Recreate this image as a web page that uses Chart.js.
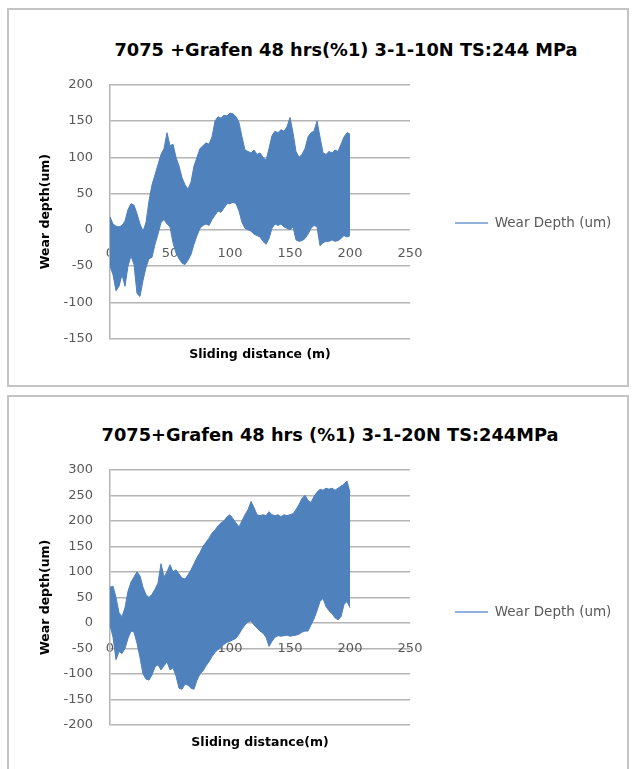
<!DOCTYPE html>
<html>
<head>
<meta charset="utf-8">
<script src="https://cdn.jsdelivr.net/npm/chart.js@4.4.1/dist/chart.umd.min.js"></script>
<style>
  html, body { margin: 0; padding: 0; background: #fff; overflow: hidden; width: 632px; height: 769px; }
  .frame { position: absolute; left: 7px; width: 622px; border: 2px solid #c4c4c4; box-sizing: border-box; }
  .title { position: absolute; width: 600px; text-align: center; font: bold 17.8px "DejaVu Sans", sans-serif;
           line-height: 1; color: #000; white-space: nowrap; }
  canvas { position: absolute; left: 9px; }
</style>
</head>
<body>
<div class="frame" style="top:8px;height:379px"></div>
<div class="frame" style="top:395px;height:400px"></div>
<div class="title" style="left:46px;top:41.4px">7075 +Grafen 48 hrs(%1) 3-1-10N TS:244 MPa</div>
<div class="title" style="left:30px;top:426.4px">7075+Grafen 48 hrs (%1) 3-1-20N TS:244MPa</div>
<canvas id="wear10" width="623" height="320" style="top:60px"></canvas>
<canvas id="wear20" width="623" height="321" style="top:445px"></canvas>
<script>
// Sliding distance (m) at which the wear-depth band is sampled
const distance = [
  0, 2.5, 5, 7.5, 10, 12.5, 15, 17.5, 20, 22.5, 25, 27.5, 30, 32.5, 35, 37.5, 40, 42.5, 45, 47.5,
  50, 52.5, 55, 57.5, 60, 62.5, 65, 67.5, 70, 72.5, 75, 77.5, 80, 82.5, 85, 87.5, 90, 92.5, 95, 97.5,
  100, 102.5, 105, 107.5, 110, 112.5, 115, 117.5, 120, 122.5, 125, 127.5, 130, 132.5, 135, 137.5, 140, 142.5, 145, 147.5,
  150, 152.5, 155, 157.5, 160, 162.5, 165, 167.5, 170, 172.5, 175, 177.5, 180, 182.5, 185, 187.5, 190, 192.5, 195, 197.5, 200
];

// 10 N test: upper and lower envelope of the wear-depth signal (um)
const upper10N = [
  18, 8, 5, 4, 6, 12, 28, 36, 34, 22, 8, -2, 10, 40, 62, 76, 90, 104, 112, 134,
  116, 118, 100, 88, 72, 62, 56, 66, 88, 100, 112, 116, 120, 118, 128, 150, 156, 154, 158, 157,
  161, 160, 156, 148, 128, 110, 108, 106, 110, 104, 106, 100, 96, 112, 130, 136, 134, 138, 136, 142,
  155, 134, 108, 100, 104, 112, 128, 134, 136, 150, 128, 106, 104, 108, 106, 110, 108, 118, 128, 134, 132
];
const lower10N = [
  -50, -62, -84, -78, -62, -78, -50, -36, -48, -88, -92, -70, -52, -40, -38, -20, -6, 10, 14, 8,
  4, -18, -32, -40, -46, -48, -42, -34, -20, -8, 2, 6, 8, 6, 14, 20, 26, 24, 30, 36,
  36, 38, 36, 26, 10, 2, 0, -2, -6, -8, -10, -16, -20, -12, 2, 8, 6, 8, 4, 2,
  0, 4, -14, -16, -15, -12, -6, 2, 6, 4, -22, -18, -16, -16, -14, -16, -15, -12, -8, -10, -8
];

// 20 N test: upper and lower envelope of the wear-depth signal (um)
const upper20N = [
  70, 72, 50, 20, 12, 30, 62, 80, 90, 100, 92, 70, 55, 50, 56, 66, 78, 116, 90, 100,
  114, 100, 104, 96, 88, 86, 94, 104, 116, 128, 138, 150, 158, 166, 176, 182, 190, 196, 200, 208,
  212, 204, 196, 188, 200, 212, 222, 238, 226, 212, 210, 212, 210, 218, 212, 210, 212, 208, 212, 210,
  212, 214, 222, 232, 244, 250, 240, 236, 248, 256, 262, 260, 264, 262, 264, 260, 264, 268, 272, 278, 256
];
const lower20N = [
  -4, -28, -72, -56, -60, -50, -30, -16, -18, -40, -68, -100, -110, -112, -102, -86, -82, -92, -84, -76,
  -92, -88, -104, -128, -130, -120, -122, -128, -130, -112, -100, -94, -84, -76, -66, -58, -52, -48, -42, -38,
  -36, -33, -30, -22, -12, -4, 2, 4, -4, -10, -16, -20, -28, -46, -36, -28, -25, -26, -25, -24,
  -26, -25, -24, -22, -18, -16, -16, -4, 8, 24, 42, 48, 32, 24, 18, 10, 6, 12, 36, 42, 30
];

// Axis ranges and tick step
const xRange = [0, 250];
const yRange10N = [-150, 200];
const yRange20N = [-200, 300];
const tickStep = 50;

const SERIES_LABEL = 'Wear Depth (um)';
const FAMILY = '"DejaVu Sans", sans-serif';
const BAND = '#4f81bd';
const GRID = '#b4b4b4';
const TICK = '#595959';
const LEGEND_SIZE = 13.5;
const LEGEND_PAD = 45;
const LEGEND_LINE = 33;
const PLOT_LEFT_PAD = 10;
const Y_AXIS_WIDTH = 91;
const PLOT_RIGHT = 401;

function drawWearChart(id, upper, lower, yRange, p) {
  const canvas = document.getElementById(id);
  const m = canvas.getContext('2d');
  m.font = LEGEND_SIZE + 'px ' + FAMILY;
  const legendWidth = LEGEND_PAD + LEGEND_LINE + LEGEND_SIZE / 2 + m.measureText(SERIES_LABEL).width + 10;
  const padRight = Math.max(0, canvas.width - PLOT_RIGHT - legendWidth);

  const tickFont = { family: FAMILY, size: 13 };
  const axisTitleFont = { family: FAMILY, size: 12.5, weight: 'bold' };

  return new Chart(canvas, {
    type: 'line',
    data: {
      datasets: [
        {
          label: SERIES_LABEL,
          data: distance.map((d, i) => ({ x: d, y: upper[i] })),
          borderColor: BAND, backgroundColor: BAND, borderWidth: 1,
          pointRadius: 0, tension: 0, fill: '+1', xAxisID: 'x', yAxisID: 'y'
        },
        {
          label: 'lower envelope',
          data: distance.map((d, i) => ({ x: d, y: lower[i] })),
          borderColor: BAND, backgroundColor: BAND, borderWidth: 1,
          pointRadius: 0, tension: 0, fill: false, xAxisID: 'x', yAxisID: 'y'
        }
      ]
    },
    options: {
      responsive: false,
      animation: false,
      events: [],
      layout: { padding: { top: p.padTop, bottom: p.padBottom, left: PLOT_LEFT_PAD, right: padRight } },
      plugins: {
        title: { display: false },
        tooltip: { enabled: false },
        legend: {
          position: 'right',
          align: 'center',
          maxWidth: 400,
          labels: {
            usePointStyle: true,
            pointStyle: 'line',
            pointStyleWidth: LEGEND_LINE,
            padding: LEGEND_PAD,
            color: TICK,
            font: { family: FAMILY, size: LEGEND_SIZE },
            filter: item => item.datasetIndex === 0,
            generateLabels(chart) {
              const items = Chart.defaults.plugins.legend.labels.generateLabels(chart);
              items.forEach(it => { it.strokeStyle = '#93b1da'; it.lineWidth = 2; });
              return items;
            }
          }
        }
      },
      scales: {
        x: {
          type: 'linear',
          position: { y: 0 },
          min: xRange[0], max: xRange[1],
          z: 1,
          grid: { display: false, drawTicks: false },
          border: { display: false },
          ticks: { stepSize: tickStep, padding: p.xTickPad, color: TICK, font: tickFont, maxRotation: 0 }
        },
        xTitle: {
          type: 'linear',
          position: 'bottom',
          min: xRange[0], max: xRange[1],
          grid: { display: false, drawTicks: false },
          border: { display: false },
          ticks: { display: false },
          title: {
            display: true, text: p.xTitle, color: '#000', font: axisTitleFont,
            padding: { top: p.xTitleTop, bottom: p.xTitleBottom }
          }
        },
        y: {
          type: 'linear',
          position: 'left',
          min: yRange[0], max: yRange[1],
          grid: { color: GRID, lineWidth: 1.5, drawTicks: false },
          border: { display: true, color: GRID, width: 1.5 },
          ticks: { stepSize: tickStep, padding: 17, color: TICK, font: tickFont },
          title: {
            display: true, text: 'Wear depth(um)', color: '#000', font: axisTitleFont,
            padding: { top: 19.5, bottom: 0 }
          },
          afterFit(scale) { scale.width = Y_AXIS_WIDTH; }
        }
      }
    }
  });
}

drawWearChart('wear10', upper10N, lower10N, yRange10N, {
  padTop: 21.7, padBottom: 15.7, xTickPad: 16.5,
  xTitle: 'Sliding distance (m)', xTitleTop: 9, xTitleBottom: 1.8
});

drawWearChart('wear20', upper20N, lower20N, yRange20N, {
  padTop: 22.3, padBottom: 9.3, xTickPad: 18,
  xTitle: 'Sliding distance(m)', xTitleTop: 10.5, xTitleBottom: 6.2
});
</script>
</body>
</html>
